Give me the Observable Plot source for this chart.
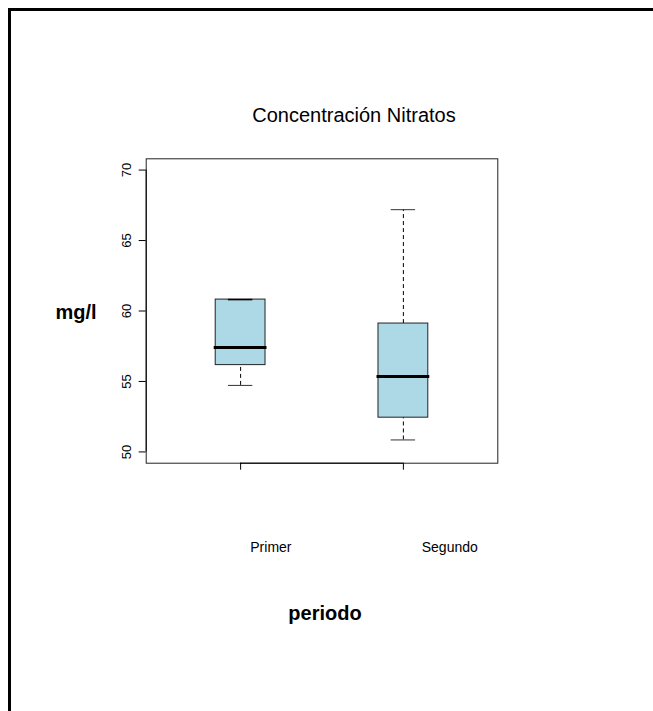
<!DOCTYPE html>
<html>
<head>
<meta charset="utf-8">
<script src="https://cdn.jsdelivr.net/npm/d3@7"></script>
<script src="https://cdn.jsdelivr.net/npm/@observablehq/plot@0.6"></script>
<style>
  html, body { margin: 0; padding: 0; background: #fff; }
  #wrap { position: relative; width: 653px; height: 711px; overflow: hidden; font-family: "Liberation Sans", Arial, sans-serif; }
  #border { position: absolute; left: 8px; top: 8px; width: 800px; height: 800px; border-left: 3px solid #000; border-top: 3px solid #000; box-sizing: border-box; pointer-events: none; }
  #wrap svg { position: absolute; left: 0; top: 0; }
</style>
</head>
<body>
<div id="wrap"><div id="border"></div></div>
<script>
// Data
const categories = ["Primer", "Segundo"];
const whiskerLow = [54.72, 50.85];
const q1Values = [56.16, 52.43];
const medians = [57.41, 55.36];
const q3Values = [60.81, 59.11];
const whiskerHigh = [60.81, 67.19];
const yTicks = [50, 55, 60, 65, 70];
// label positions of the category names on the R x coordinate
const labelPos = [1.186, 2.285];

const boxHalf = 0.153;
const capHalf = 0.075;

const boxes = categories.map((c, i) => ({
  cat: c, pos: i + 1,
  lo: whiskerLow[i], q1: q1Values[i], med: medians[i], q3: q3Values[i], hi: whiskerHigh[i]
}));
const labelMap = new Map(labelPos.map((p, i) => [p, categories[i]]));

const chart = Plot.plot({
  width: 653,
  height: 711,
  marginLeft: 145.7,
  marginRight: 155.7,
  marginTop: 158.3,
  marginBottom: 248.3,
  style: { fontFamily: "'Liberation Sans', Arial, sans-serif", fontSize: "13px", background: "transparent", color: "#000" },
  x: { type: "linear", domain: [0.42, 2.58], axis: null, label: null },
  y: { domain: [49.2, 70.8], axis: null, label: null },
  marks: [
    Plot.frame({ stroke: "#222" }),
    Plot.ruleX(boxes, { x: "pos", y1: "q3", y2: "hi", stroke: "#000", strokeDasharray: "4,3" }),
    Plot.ruleX(boxes, { x: "pos", y1: "lo", y2: "q1", stroke: "#000", strokeDasharray: "4,3" }),
    Plot.ruleY(boxes, { y: "hi", x1: d => d.pos - capHalf, x2: d => d.pos + capHalf, stroke: "#333" }),
    Plot.ruleY(boxes, { y: "lo", x1: d => d.pos - capHalf, x2: d => d.pos + capHalf, stroke: "#333" }),
    Plot.rect(boxes, { x1: d => d.pos - boxHalf, x2: d => d.pos + boxHalf, y1: "q1", y2: "q3", fill: "#ADD8E6", stroke: "#222" }),
    Plot.ruleY(boxes.filter(d => d.hi === d.q3), { y: "hi", x1: d => d.pos - capHalf, x2: d => d.pos + capHalf, stroke: "#000", strokeWidth: 1.5 }),
    Plot.ruleY(boxes, { y: "med", x1: d => d.pos - boxHalf, x2: d => d.pos + boxHalf, stroke: "#000", strokeWidth: 3, strokeLinecap: "square" }),
    // axis lines as R draws them (from first to last tick)
    Plot.ruleX([0.42], { y1: yTicks[0], y2: yTicks[yTicks.length - 1], stroke: "#000" }),
    Plot.ruleY([49.2], { x1: 1, x2: categories.length, stroke: "#000" }),
    Plot.axisY(yTicks, { anchor: "left", label: null, tickSize: 7, tickPadding: 8, tickRotate: -90, fontSize: 13, tickFormat: d => String(d) }),
    Plot.axisX(boxes.map(d => d.pos), { anchor: "bottom", label: null, tickSize: 7, tickFormat: () => "" }),
    Plot.axisX(labelPos, { anchor: "bottom", label: null, tickSize: 0, tickPadding: 79, fontSize: 14, tickFormat: d => labelMap.get(d) })
  ]
});

const svg = d3.select(chart);
svg.append("text").attr("x", 354).attr("y", 122).attr("text-anchor", "middle")
  .attr("font-size", 20).attr("fill", "#000").text("Concentración Nitratos");
svg.append("text").attr("x", 76).attr("y", 319).attr("text-anchor", "middle")
  .attr("font-size", 20).attr("font-weight", "bold").attr("fill", "#000").text("mg/l");
svg.append("text").attr("x", 325).attr("y", 620).attr("text-anchor", "middle")
  .attr("font-size", 20).attr("font-weight", "bold").attr("fill", "#000").text("periodo");

document.getElementById("wrap").appendChild(chart);
</script>
</body>
</html>
